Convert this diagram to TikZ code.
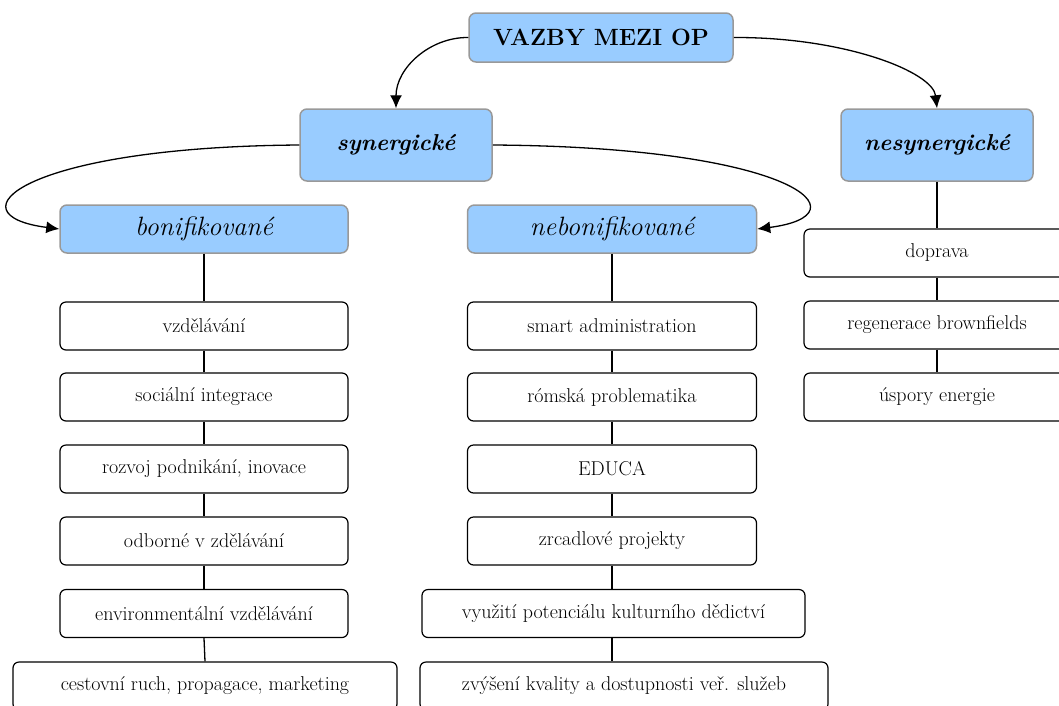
\documentclass[tikz,border=0pt]{standalone}
\usetikzlibrary{arrows.meta}
\definecolor{headblue}{HTML}{99CCFF}
\definecolor{headgray}{HTML}{999999}

\begin{document}
\begin{tikzpicture}[x=1pt,y=-1pt,
  head/.style={draw=headgray,fill=headblue,line width=1.5pt,rounded corners=7pt,inner sep=0pt},
  item/.style={draw,line width=1.2pt,rounded corners=6pt,minimum height=48pt,inner sep=0pt,
    font=\fontsize{20}{24}\selectfont},
  link/.style={line width=1.3pt},
  arr/.style={line width=1.3pt,-{Latex[length=13pt,width=12pt]}}]
  \useasboundingbox (0,0) rectangle (1059,705);
  \clip (0,0) rectangle (1059,705);

  % top levels
  \node(vazby)[head,minimum width=264pt,minimum height=49pt,font=\bfseries\fontsize{23.5}{28}\selectfont] at (601,37.5) {VAZBY MEZI OP};
  \node(syn)[head,minimum width=192pt,minimum height=72pt,font=\bfseries\itshape\fontsize{23}{28}\selectfont] at (396,145) {synergické};
  \node(nesyn)[head,minimum width=192pt,minimum height=72pt,font=\bfseries\itshape\fontsize{23}{28}\selectfont] at (937,145) {nesynergické};
  \node(bon)[head,minimum width=288pt,minimum height=48pt,font=\itshape\fontsize{26.5}{32}\selectfont] at (204,229) {bonifikované};
  \node(nebon)[head,minimum width=289pt,minimum height=48pt,font=\itshape\fontsize{26.5}{32}\selectfont] at (612,229) {nebonifikované};

  % bonifikované
  \node(b1)[item,minimum width=288pt] at (204,326) {vzdělávání};
  \node(b2)[item,minimum width=288pt] at (204,397) {sociální integrace};
  \node(b3)[item,minimum width=288pt] at (204,469) {rozvoj podnikání, inovace};
  \node(b4)[item,minimum width=288pt] at (204,541) {odborné v zdělávání};
  \node(b5)[item,minimum width=288pt] at (204,613.5) {environmentální vzdělávání};
  \node(b6)[item,minimum width=384pt] at (205,686) {cestovní ruch, propagace, marketing};

  % nebonifikované
  \node(n1)[item,minimum width=289pt] at (612,326) {smart administration};
  \node(n2)[item,minimum width=289pt] at (612,397) {rómská problematika};
  \node(n3)[item,minimum width=289pt] at (612,469) {EDUCA};
  \node(n4)[item,minimum width=289pt] at (612,541) {zrcadlové projekty};
  \node(n5)[item,minimum width=383pt] at (613.5,613.5) {využití potenciálu kulturního dědictví};
  \node(n6)[item,minimum width=408pt] at (624,686) {zvýšení kvality a dostupnosti veř. služeb};

  % nesynergické
  \node(r1)[item,minimum width=266pt] at (937,253) {doprava};
  \node(r2)[item,minimum width=266pt] at (937,325) {regenerace brownfields};
  \node(r3)[item,minimum width=266pt] at (937,397) {úspory energie};

  \draw[link] (bon) -- (b1);
  \draw[link] (b1) -- (b2);
  \draw[link] (b2) -- (b3);
  \draw[link] (b3) -- (b4);
  \draw[link] (b4) -- (b5);
  \draw[link] (b5.south) -- (b6.north);

  \draw[link] (nebon) -- (n1);
  \draw[link] (n1) -- (n2);
  \draw[link] (n2) -- (n3);
  \draw[link] (n3) -- (n4);
  \draw[link] (n4.south) -- (n5.north -| n4.south);
  \draw[link] (n5.south -| n4.south) -- (n6.north -| n4.south);

  \draw[link] (nesyn) -- (r1);
  \draw[link] (r1) -- (r2);
  \draw[link] (r2) -- (r3);

  \draw[arr] (vazby.west) .. controls (430,37) and (396,68) .. (syn.north);
  \draw[arr] (vazby.east) .. controls (845,37) and (933,72) .. (nesyn.north);
  \draw[arr] (syn.west) .. controls (20,147) and (-50,215) .. (bon.west);
  \draw[arr] (syn.east) .. controls (797,147) and (867,215) .. (nebon.east);
\end{tikzpicture}
\end{document}
